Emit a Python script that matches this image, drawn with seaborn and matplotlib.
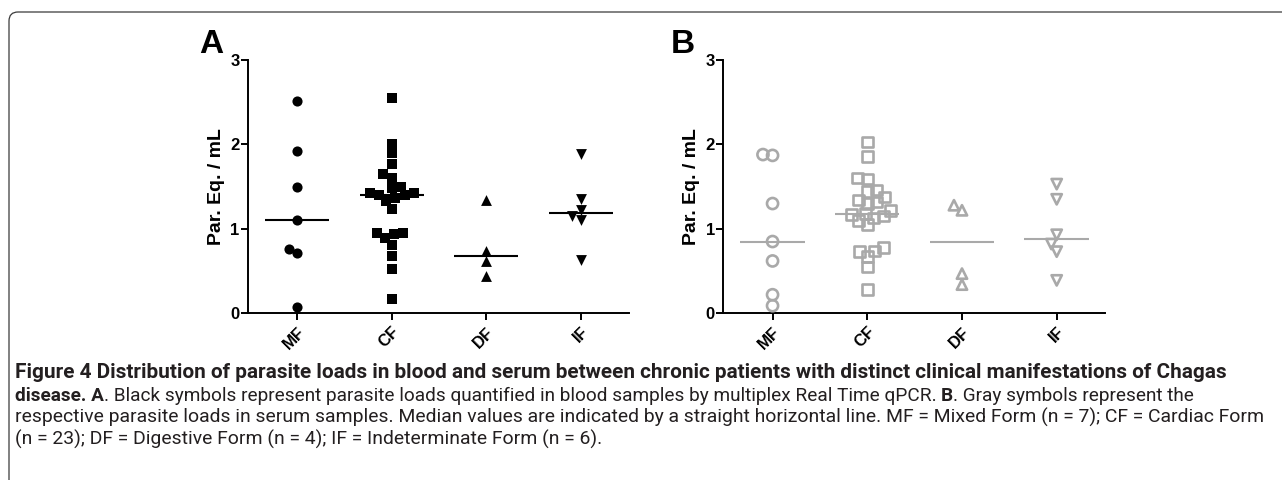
import numpy as np
import pandas as pd
import matplotlib
matplotlib.use("Agg")
import matplotlib.pyplot as plt
import seaborn as sns
from matplotlib.patches import FancyBboxPatch
from matplotlib.transforms import IdentityTransform
from matplotlib.collections import PathCollection
import warnings
warnings.filterwarnings("ignore")

# ---------------- data ----------------
forms = ["MF", "CF", "DF", "IF"]
markers = ["o", "s", "^", "v"]

mf_blood = [2.51, 1.92, 1.50, 1.10, 0.76, 0.71, 0.07]
cf_blood = [2.55, 2.01, 1.90, 1.77, 1.65, 1.60, 1.50, 1.48, 1.42, 1.42, 1.40, 1.40,
            1.37, 1.33, 1.24, 0.95, 0.95, 0.94, 0.89, 0.81, 0.68, 0.53, 0.17]
df_blood = [1.34, 0.74, 0.62, 0.44]
if_blood = [1.89, 1.35, 1.22, 1.15, 1.10, 0.63]

mf_serum = [1.88, 1.87, 1.30, 0.85, 0.62, 0.22, 0.09]
cf_serum = [2.03, 1.86, 1.60, 1.59, 1.46, 1.44, 1.38, 1.34, 1.32, 1.30, 1.22, 1.18,
            1.17, 1.15, 1.13, 1.10, 1.05, 0.78, 0.74, 0.73, 0.67, 0.55, 0.28]
df_serum = [1.28, 1.22, 0.47, 0.34]
if_serum = [1.53, 1.35, 0.93, 0.82, 0.73, 0.39]

y_ticks = [0, 1, 2, 3]
y_label = "Par. Eq. / mL"
panel_letters = ["A", "B"]

caption_line1 = ("Figure 4 Distribution of parasite loads in blood and serum between chronic "
                 "patients with distinct clinical manifestations of Chagas")
caption_line2 = [("disease. A", "bold"),
                 (". Black symbols represent parasite loads quantified in blood samples by "
                  "multiplex Real Time qPCR.", "normal"),
                 (" ", "space"),
                 ("B", "bold"),
                 (". Gray symbols represent the", "normal")]
caption_line3 = ("respective parasite loads in serum samples. Median values are indicated by a "
                 "straight horizontal line. MF = Mixed Form (n = 7); CF = Cardiac Form")
caption_line4 = "(n = 23); DF = Digestive Form (n = 4); IF = Indeterminate Form (n = 6)."

# ---------------- style ----------------
sns.set_theme(style="ticks")
plt.rcParams["font.family"] = ["Liberation Sans", "DejaVu Sans"]

W, H = 1282, 480
fig = plt.figure(figsize=(W / 100, H / 100), dpi=100)
fig.patch.set_facecolor("white")

GRAY = "#a9a9a9"


def px_axes(l, t, r, b):
    return fig.add_axes([l / W, 1 - b / H, (r - l) / W, (b - t) / H])


axA = px_axes(248, 60, 629, 313.3)
axB = px_axes(723.3, 60, 1105, 313.3)


def long_df(lists):
    return pd.DataFrame({
        "form": np.repeat(forms, [len(v) for v in lists]),
        "value": np.concatenate([np.asarray(v, float) for v in lists]),
    })


dataA = long_df([mf_blood, cf_blood, df_blood, if_blood])
dataB = long_df([mf_serum, cf_serum, df_serum, if_serum])

made = {"A": [], "B": []}
for key, ax, data, col in [("A", axA, dataA, "black"), ("B", axB, dataB, GRAY)]:
    for f, m in zip(forms, markers):
        sub = data[data["form"] == f]
        before = set(id(c) for c in ax.collections)
        sns.swarmplot(data=sub, x="form", y="value", order=forms, marker=m,
                      size=6.6, color=col, linewidth=0, ax=ax)
        new = [c for c in ax.collections
               if id(c) not in before and isinstance(c, PathCollection)]
        made[key].append((m, new))

for ax in (axA, axB):
    ax.set_xlim(-0.52, 3.51)
    ax.set_ylim(0, 3)

# compute swarm layout with the compact spacing, then freeze it
fig.canvas.draw()

filled_sizes = {"o": 7.3, "s": 6.9, "^": 7.8, "v": 7.8}
open_sizes = {"o": 8.0, "s": 7.6, "^": 7.4, "v": 7.4}
for key, filled in [("A", True), ("B", False)]:
    for m, colls in made[key]:
        for coll in colls:
            if "draw" in coll.__dict__:
                del coll.draw
            if filled:
                coll.set_sizes([filled_sizes[m] ** 2])
                coll.set_facecolor("black")
                coll.set_edgecolor("black")
                coll.set_linewidth(0)
            else:
                coll.set_sizes([open_sizes[m] ** 2])
                coll.set_facecolor("none")
                coll.set_edgecolor(GRAY)
                coll.set_linewidth(1.9)

# median lines
for ax, data, col in [(axA, dataA, "black"), (axB, dataB, GRAY)]:
    meds = data.groupby("form")["value"].median().reindex(forms)
    for i, f in enumerate(forms):
        ax.hlines(meds[f], i - 0.34, i + 0.34, color=col, lw=1.5, zorder=4)

# axes styling
for ax, letter, lx in [(axA, panel_letters[0], 199), (axB, panel_letters[1], 671)]:
    sns.despine(ax=ax)
    for s in ("left", "bottom"):
        ax.spines[s].set_linewidth(1.4)
        ax.spines[s].set_color("black")
    ax.set_yticks(y_ticks)
    ax.set_yticklabels([str(t) for t in y_ticks], fontsize=12, fontweight="bold")
    ax.set_xticks(range(len(forms)))
    ax.set_xticklabels(forms, fontsize=12, fontweight="bold", rotation=45,
                       ha="right", va="top", rotation_mode="anchor")
    ax.tick_params(axis="both", length=5, width=1.4, color="black", labelcolor="black")
    ax.tick_params(axis="y", pad=1)
    ax.tick_params(axis="x", pad=3)
    ax.set_xlabel("")
    ax.set_ylabel(y_label, fontsize=14, fontweight="bold", labelpad=4, color="black")
    ax.set_facecolor("white")
    fig.text(lx / W, 1 - 53 / H, letter, fontsize=24, fontweight="bold",
             ha="left", va="baseline", color="black")

# frame around figure
frame = FancyBboxPatch((9, -30), 1320, H - 12 + 30,
                       boxstyle="round,pad=0,rounding_size=9",
                       transform=IdentityTransform(), fill=False,
                       ec="#3a3a3a", lw=0.9)
fig.add_artist(frame)

# caption
CAP_FONT = ["Roboto", "DejaVu Sans"]
renderer = fig.canvas.get_renderer()


def text_width(s, size, weight):
    t = fig.text(0, 0, s, fontsize=size, fontweight=weight, family=CAP_FONT)
    w = t.get_window_extent(renderer).width
    t.remove()
    return w


def seg_width(s, w, size):
    if w == "space":
        return text_width("a a", size, "normal") - text_width("aa", size, "normal")
    return text_width(s, size, w)


def rich_line(segs, x0, ybase, size):
    x = x0
    for s, w in segs:
        if w != "space":
            fig.text(x / W, 1 - ybase / H, s, fontsize=size, fontweight=w,
                     family=CAP_FONT, ha="left", va="baseline", color="#231f20")
        x += seg_width(s, w, size)


def fit_size(segs, target, base=13.0):
    tot = sum(seg_width(s, w, base) for s, w in segs)
    return base * target / tot


X0 = 15
seg1 = [(caption_line1, "bold")]
seg3 = [(caption_line3, "normal")]
seg4 = [(caption_line4, "normal")]
s1 = fit_size(seg1, 1228 - X0)
s2 = fit_size(caption_line2, 1190 - X0)
s3 = fit_size(seg3, 1263 - X0)
rich_line(seg1, X0, 378, s1)
rich_line(caption_line2, X0, 401, s2)
rich_line(seg3, X0, 423, s3)
rich_line(seg4, X0, 445, s3)

fig.savefig("out.png", dpi=100, facecolor="white")
